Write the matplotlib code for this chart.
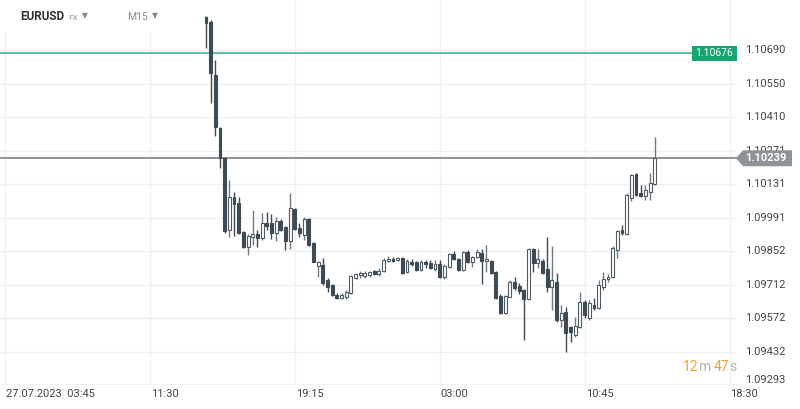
import matplotlib
matplotlib.use("Agg")
import matplotlib.pyplot as plt
from matplotlib.patches import Rectangle, Polygon
from matplotlib.transforms import blended_transform_factory
import numpy as np
import pandas as pd

plt.rcParams['font.family'] = ['Roboto', 'DejaVu Sans']

# EURUSD M15 candles, 27.07.2023 14:30 -> 28.07.2023 14:30
symbol = "EURUSD"
axis_start = "2023-07-27 03:45"
first_candle = "2023-07-27 14:30"

opens = [1.10827, 1.10806, 1.10586, 1.10365, 1.10240, 1.09941, 1.10078, 1.10053, 1.09932, 1.09870,
         1.09911, 1.09924, 1.09907, 1.09970, 1.09970, 1.09928, 1.09978, 1.09953, 1.09895, 1.10028,
         1.09949, 1.09920, 1.09986, 1.09886, 1.09791, 1.09795, 1.09732, 1.09712, 1.09670, 1.09657,
         1.09662, 1.09678, 1.09741, 1.09753, 1.09749, 1.09753, 1.09770, 1.09757, 1.09770, 1.09811,
         1.09820, 1.09816, 1.09824, 1.09766, 1.09807, 1.09807, 1.09774, 1.09807, 1.09803, 1.09778,
         1.09799, 1.09745, 1.09786, 1.09841, 1.09820, 1.09774, 1.09849, 1.09807, 1.09828, 1.09845,
         1.09811, 1.09811, 1.09766, 1.09666, 1.09595, 1.09662, 1.09724, 1.09707, 1.09691, 1.09653,
         1.09861, 1.09803, 1.09811, 1.09778, 1.09703, 1.09724, 1.09566, 1.09599, 1.09537, 1.09503,
         1.09537, 1.09641, 1.09574, 1.09628, 1.09616, 1.09703, 1.09736, 1.09745, 1.09857, 1.09941,
         1.09924, 1.10074, 1.10174, 1.10095, 1.10082, 1.10099, 1.10132]
highs = [1.10831, 1.10815, 1.10648, 1.10369, 1.10244, 1.10149, 1.10099, 1.10078, 1.09936, 1.09924,
         1.10024, 1.09941, 1.10011, 1.10015, 1.10007, 1.09995, 1.09986, 1.09957, 1.10095, 1.10032,
         1.09970, 1.09995, 1.09990, 1.09891, 1.09811, 1.09824, 1.09741, 1.09716, 1.09678, 1.09678,
         1.09691, 1.09753, 1.09761, 1.09770, 1.09770, 1.09770, 1.09774, 1.09782, 1.09824, 1.09832,
         1.09828, 1.09828, 1.09828, 1.09820, 1.09820, 1.09811, 1.09816, 1.09816, 1.09816, 1.09816,
         1.09816, 1.09799, 1.09845, 1.09853, 1.09824, 1.09853, 1.09857, 1.09832, 1.09861, 1.09861,
         1.09878, 1.09816, 1.09770, 1.09674, 1.09670, 1.09732, 1.09745, 1.09720, 1.09695, 1.09866,
         1.09866, 1.09861, 1.09820, 1.09911, 1.09874, 1.09761, 1.09628, 1.09620, 1.09541, 1.09578,
         1.09682, 1.09649, 1.09649, 1.09657, 1.09732, 1.09766, 1.09757, 1.09874, 1.09941, 1.09961,
         1.10095, 1.10174, 1.10178, 1.10128, 1.10128, 1.10178, 1.10328]
lows = [1.10698, 1.10469, 1.10332, 1.10199, 1.09928, 1.09911, 1.09916, 1.09924, 1.09866, 1.09836,
        1.09878, 1.09870, 1.09899, 1.09941, 1.09903, 1.09895, 1.09936, 1.09857, 1.09861, 1.09941,
        1.09911, 1.09899, 1.09874, 1.09807, 1.09745, 1.09712, 1.09682, 1.09666, 1.09653, 1.09653,
        1.09653, 1.09674, 1.09736, 1.09741, 1.09741, 1.09745, 1.09753, 1.09749, 1.09766, 1.09807,
        1.09807, 1.09811, 1.09757, 1.09761, 1.09791, 1.09770, 1.09770, 1.09782, 1.09778, 1.09770,
        1.09741, 1.09736, 1.09782, 1.09816, 1.09770, 1.09770, 1.09803, 1.09786, 1.09824, 1.09716,
        1.09766, 1.09757, 1.09653, 1.09591, 1.09591, 1.09662, 1.09691, 1.09674, 1.09483, 1.09649,
        1.09766, 1.09782, 1.09757, 1.09682, 1.09607, 1.09558, 1.09537, 1.09433, 1.09474, 1.09495,
        1.09533, 1.09574, 1.09566, 1.09607, 1.09612, 1.09691, 1.09724, 1.09741, 1.09824, 1.09920,
        1.09920, 1.10061, 1.10082, 1.10078, 1.10065, 1.10065, 1.10128]
closes = [1.10802, 1.10594, 1.10369, 1.10240, 1.09936, 1.10078, 1.10049, 1.09928, 1.09870, 1.09916,
          1.09924, 1.09907, 1.09970, 1.09957, 1.09928, 1.09978, 1.09941, 1.09895, 1.10032, 1.09945,
          1.09928, 1.09986, 1.09878, 1.09807, 1.09807, 1.09720, 1.09703, 1.09670, 1.09657, 1.09670,
          1.09682, 1.09749, 1.09757, 1.09761, 1.09761, 1.09766, 1.09757, 1.09770, 1.09816, 1.09820,
          1.09811, 1.09824, 1.09761, 1.09811, 1.09799, 1.09774, 1.09807, 1.09799, 1.09782, 1.09799,
          1.09745, 1.09791, 1.09841, 1.09820, 1.09774, 1.09849, 1.09807, 1.09828, 1.09849, 1.09811,
          1.09820, 1.09761, 1.09657, 1.09595, 1.09666, 1.09724, 1.09699, 1.09687, 1.09653, 1.09861,
          1.09803, 1.09820, 1.09761, 1.09703, 1.09732, 1.09566, 1.09595, 1.09512, 1.09516, 1.09541,
          1.09641, 1.09587, 1.09637, 1.09616, 1.09712, 1.09736, 1.09745, 1.09866, 1.09936, 1.09928,
          1.10086, 1.10169, 1.10086, 1.10082, 1.10107, 1.10136, 1.10239]

x_tick_labels = ["27.07.2023  03:45", "11:30", "19:15", "03:00", "10:45", "18:30"]
y_ticks = [1.10690, 1.10550, 1.10410, 1.10271, 1.10131, 1.09991,
           1.09852, 1.09712, 1.09572, 1.09432, 1.09293]
ask_price = 1.10676
last_price = 1.10239
countdown = ("12", "m", "47", "s")

# colours
dark = '#3e4b54'
wick_up = '#6f7a80'
grid_c = '#f0f0f0'
text_c = '#444444'
green_line = '#2bb28e'
green_box = '#14a570'
gray_line = '#8e9398'

t0 = pd.Timestamp(axis_start)
times = pd.date_range(first_candle, periods=len(opens), freq="15min")
slots = ((times - t0) / pd.Timedelta("15min")).to_numpy()

o = np.array(opens)
h = np.array(highs)
l = np.array(lows)
c = np.array(closes)
up = c >= o

fig = plt.figure(figsize=(8, 4.09), dpi=100)
ax = fig.add_axes([0, 24 / 409, 737 / 800, 385 / 409])
ax.set_xlim(-1.07, 156.6)
ax.set_ylim(1.09295, 1.10898)
for s in ax.spines.values():
    s.set_visible(False)
ax.set_xticks([])
ax.set_yticks([])

# grid
for v in y_ticks[:-1]:
    ax.axhline(v, color=grid_c, lw=1, zorder=0)
ax.axhline(1.09295, color=grid_c, lw=1.2, zorder=0)
for k in range(len(x_tick_labels)):
    ax.axvline(k * 31, color=grid_c, lw=1, zorder=0)

# header box over the top-left corner
ax.add_patch(Rectangle((0, 1 - 32 / 385), 170 / 737, 32 / 385, transform=ax.transAxes,
                       facecolor='white', edgecolor='none', zorder=1))

# price lines
ax.axhline(ask_price, color=green_line, lw=1.1, zorder=2)
ax.axhline(last_price, color=gray_line, lw=1.4, zorder=2)

# candles
ax.vlines(slots, l, h, colors=np.where(up, wick_up, dark), lw=1, zorder=3)
body_lo = np.minimum(o, c)
body_h = np.maximum(np.abs(c - o), 0.00003)
ax.bar(slots, body_h, bottom=body_lo, width=0.62,
       color=np.where(up, 'white', dark), edgecolor=np.where(up, '#4f5b63', dark),
       linewidth=0.8, zorder=4)

# right price scale
ty = blended_transform_factory(ax.transAxes, ax.transData)
for i, v in enumerate(y_ticks):
    ax.text(1 + 8 / 737, v, f"{v:.5f}", transform=ty, clip_on=False,
            ha='left', va='bottom' if i == len(y_ticks) - 1 else 'center',
            fontsize=8, color=text_c)

# bottom time scale
tx = blended_transform_factory(ax.transData, ax.transAxes)
for k, lab in enumerate(x_tick_labels):
    ax.text(k * 31 + 0.2, -9 / 385, lab, transform=tx, clip_on=False,
            ha='left', va='center', fontsize=8, color=text_c)

# price tags (display pixel coordinates at dpi 100)
fig.canvas.draw()
_, ya = ax.transData.transform((0, ask_price))
ax_right = ax.transAxes.transform((1, 0))[0]
fig.patches.append(Rectangle((692, ya - 7.5), ax_right - 692, 15, transform=None,
                             facecolor=green_box, edgecolor='none', zorder=10))
fig.text(714.5 / 800, ya / 409, f"{ask_price:.5f}", ha='center', va='center',
         fontsize=7.5, color='white', zorder=11)

_, yl = ax.transData.transform((0, last_price))
tag = Polygon([(ax_right - 1, yl), (ax_right + 6, yl + 8), (792, yl + 8),
               (792, yl - 8), (ax_right + 6, yl - 8)], closed=True, transform=None,
              facecolor=gray_line, edgecolor='none', zorder=10)
fig.patches.append(tag)
fig.text(745 / 800, yl / 409, f"{last_price:.5f}", ha='left', va='center',
         fontsize=8, color='white', fontweight='bold', zorder=11)

# header
sym = fig.text(20 / 800, 1 - 17 / 409, symbol, fontsize=8.5, fontweight='bold',
               color='#333333', ha='left', va='center')
fig.canvas.draw()
sx = sym.get_window_extent().x1 + 4
fig.text(sx / 800, 1 - 18 / 409, "FX", fontsize=6, color='#999999', ha='left', va='center')
fig.text(82 / 800, 1 - 16 / 409, "▼", fontsize=5.5, color='#888888', ha='left', va='center',
         family='DejaVu Sans')
fig.text(127 / 800, 1 - 17 / 409, "M15", fontsize=7.5, color='#888888', ha='left', va='center')
fig.text(152 / 800, 1 - 16 / 409, "▼", fontsize=5.5, color='#888888', ha='left', va='center',
         family='DejaVu Sans')

# candle countdown
xpos = 683 / 800
for part, col in zip(countdown, ['#f0a32c', '#b5b5b5', '#f0a32c', '#b5b5b5']):
    t = fig.text(xpos, 1 - 367 / 409, part, fontsize=10, color=col, ha='left', va='center')
    fig.canvas.draw()
    bb = t.get_window_extent()
    xpos = (bb.x1 + (3 if part == 'm' else 0)) / 800

fig.savefig("out.png", dpi=100, facecolor='white')
